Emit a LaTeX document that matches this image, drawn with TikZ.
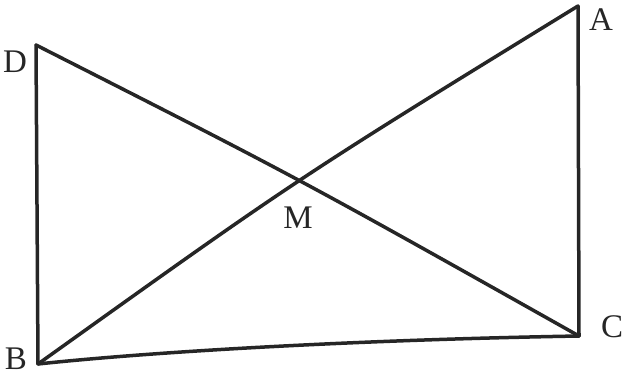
\documentclass[tikz,border=0pt]{standalone}
\usepackage{fontspec}
\setmainfont{Liberation Serif}
\tikzset{
  edge/.style={line width=3.5pt, draw=black!85, line cap=round, line join=round},
  lbl/.style={font=\fontsize{33}{33}\selectfont, text=black!85, inner sep=0pt}
}
\begin{document}
\begin{tikzpicture}[x=1pt,y=-1pt]
\useasboundingbox (0,0) rectangle (626,377);
\coordinate (A) at (578,6);
\coordinate (D) at (36,45);
\coordinate (B) at (38,364);
\coordinate (C) at (579,336);
\coordinate (M) at (298,178);
\draw[edge] (D) .. controls (M) .. (C);
\draw[edge] (B) .. controls (M) .. (A);
\draw[edge] (D) -- (B);
\draw[edge] (A) -- (C);
\draw[edge] (B) .. controls (150,352) and (350,340) .. (C);
\node[lbl] (lA) at (601,20) {A};
\node[lbl] (lD) at (15,62) {D};
\node[lbl] (lB) at (16,359) {B};
\node[lbl] (lC) at (612,327) {C};
\node[lbl] (lM) at (298,218) {M};
\end{tikzpicture}
\end{document}
